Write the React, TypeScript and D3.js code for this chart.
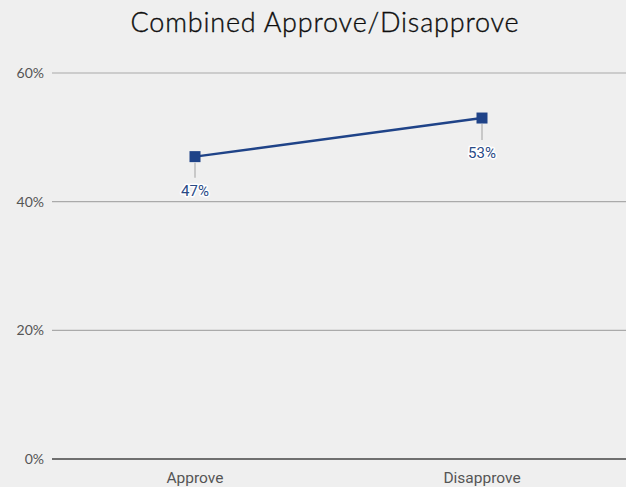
import React from 'react';
import * as d3 from 'd3';

const categories = ['Approve', 'Disapprove'];
const values = [47, 53];
const yTicks = [0, 20, 40, 60];

const width = 626;
const height = 487;

const App: React.FC = () => {
  const x = d3.scalePoint<string>()
    .domain(categories)
    .range([195, 482]);

  const y = d3.scaleLinear()
    .domain([0, 60])
    .range([459, 73]);

  const line = d3.line<number>()
    .x((_, i) => x(categories[i]) as number)
    .y(d => y(d));

  const lineColor = '#1f4388';

  return (
    <div style={{ position: 'fixed', left: 0, top: 0 }}>
      <svg width={width} height={height} style={{ display: 'block', background: '#efefef' }}>
        {/* Title */}
        <text
          x={325}
          y={32}
          textAnchor="middle"
          fontFamily="Lato, 'Open Sans', sans-serif"
          fontSize={27}
          fontWeight={300}
          letterSpacing={0.8}
          fill="#0d0d0d"
          stroke="#0d0d0d"
          strokeWidth={0.35}
        >
          Combined Approve/Disapprove
        </text>

        {/* Grid */}
        {yTicks.map(t => (
          <g key={t}>
            <line
              x1={52}
              x2={width}
              y1={y(t)}
              y2={y(t)}
              stroke={t === 0 ? '#444' : '#aaa'}
              strokeWidth={t === 0 ? 1.5 : 1.2}
            />
            <text
              x={44}
              y={y(t) + 5}
              textAnchor="end"
              fontFamily="Lato, sans-serif"
              fontSize={14}
              fill="#555"
            >
              {t}%
            </text>
          </g>
        ))}

        {/* X labels */}
        {categories.map(c => (
          <text
            key={c}
            x={x(c)}
            y={483}
            textAnchor="middle"
            fontFamily="Roboto, sans-serif"
            fontSize={15.5}
            fill="#555"
          >
            {c}
          </text>
        ))}

        {/* Line */}
        <path d={line(values) ?? ''} fill="none" stroke={lineColor} strokeWidth={2.5} />

        {/* Markers + labels */}
        {values.map((v, i) => {
          const cx = x(categories[i]) as number;
          const cy = y(v);
          const lineLen = i === 0 ? 15 : 16;
          return (
            <g key={i}>
              <line x1={cx} x2={cx} y1={cy + 6} y2={cy + 6 + lineLen} stroke="#bbb" strokeWidth={1.5} />
              <rect x={cx - 5.5} y={cy - 5.5} width={11} height={11} fill={lineColor} />
              <text
                x={cx}
                y={cy + (i === 0 ? 39 : 40)}
                textAnchor="middle"
                fontFamily="Roboto, sans-serif"
                fontSize={15}
                fill="#2a4a86"
                stroke="#fff"
                strokeWidth={3}
                strokeLinejoin="round"
                paintOrder="stroke"
              >
                {v}%
              </text>
            </g>
          );
        })}
      </svg>
    </div>
  );
};

export default App;
